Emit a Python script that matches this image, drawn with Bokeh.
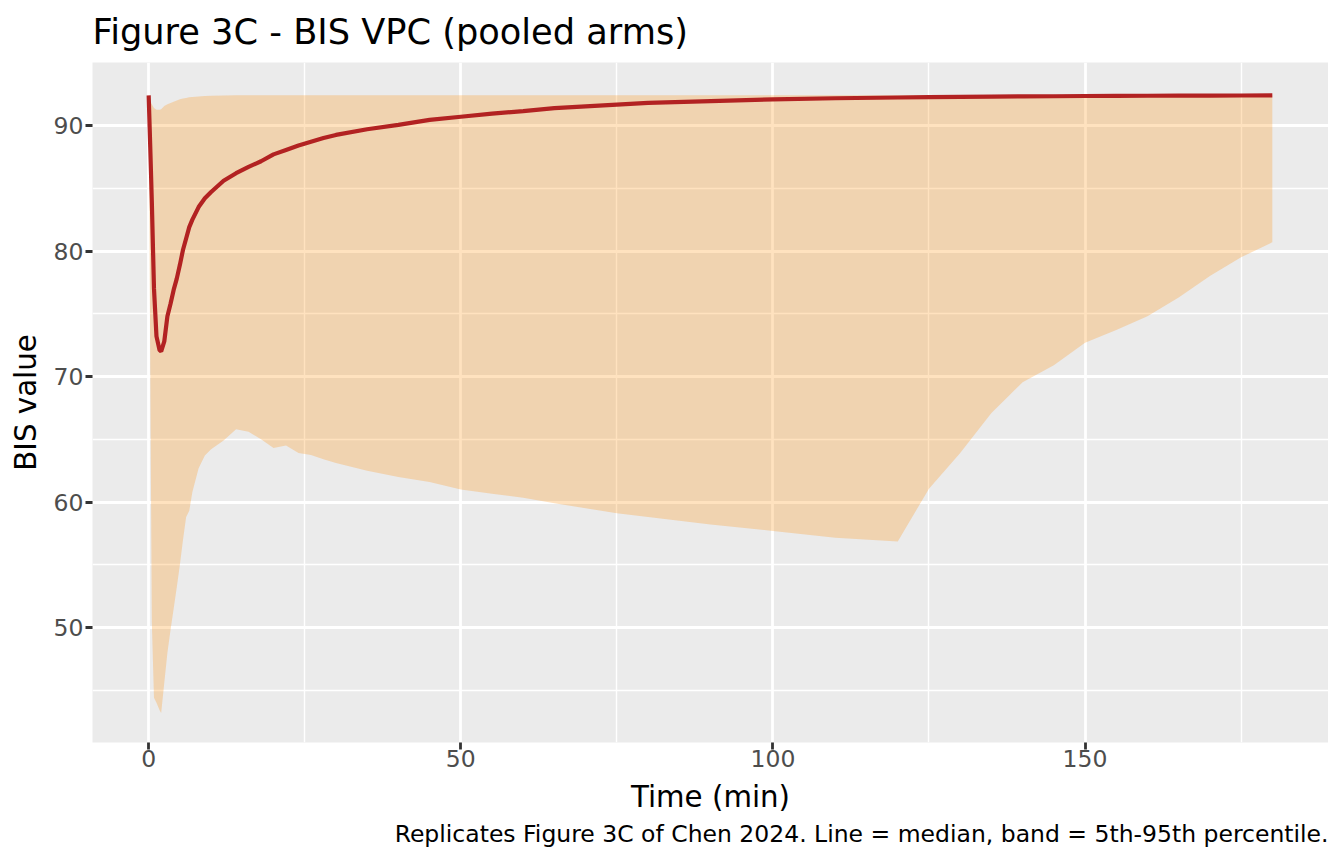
from bokeh.plotting import figure
from bokeh.models import Range1d, FixedTicker, Title
from bokeh.embed import file_html
from bokeh.resources import INLINE

time_min = [0, 0.25, 0.5, 0.85, 1.25, 1.75, 2.0, 2.5, 3.0, 3.5, 4.0, 4.5, 5.0, 5.5, 6.0, 6.5, 7.0,
            8.0, 9.0, 10, 12, 14, 16, 18, 20, 22, 24, 26, 28, 30, 35, 40, 45, 50, 55, 60, 65, 70,
            75, 80, 90, 100, 110, 120, 125, 130, 135, 140, 145, 150, 155, 160, 165, 170, 175, 180]

median_bis = [92.4, 88.3, 84.0, 77.0, 73.2, 72.1, 72.0, 72.8, 74.8, 75.8, 76.9, 77.8, 78.9, 80.1,
              81.0, 81.9, 82.5, 83.5, 84.2, 84.7, 85.6, 86.2, 86.7, 87.15, 87.7, 88.05, 88.4, 88.7,
              89.0, 89.25, 89.7, 90.05, 90.45, 90.7, 90.95, 91.15, 91.38, 91.53, 91.67, 91.8,
              91.95, 92.08, 92.17, 92.23, 92.26, 92.28, 92.3, 92.32, 92.33, 92.35, 92.36, 92.37,
              92.38, 92.38, 92.39, 92.4]

p95_bis = [92.4, 92.0, 91.7, 91.4, 91.25, 91.25, 91.3, 91.55, 91.7, 91.8, 91.9, 92.0, 92.1, 92.15,
           92.2, 92.25, 92.27, 92.32, 92.35, 92.37, 92.4, 92.42, 92.42, 92.42, 92.42, 92.42, 92.42,
           92.42, 92.42, 92.42, 92.42, 92.42, 92.42, 92.42, 92.42, 92.42, 92.42, 92.42, 92.42,
           92.42, 92.42, 92.42, 92.42, 92.42, 92.42, 92.42, 92.42, 92.42, 92.42, 92.42, 92.42,
           92.42, 92.42, 92.42, 92.42, 92.42]

p05_bis = [92.4, 71.0, 50.5, 44.4, 44.0, 43.4, 43.2, 45.6, 48.0, 49.8, 51.5, 53.2, 55.0, 57.0,
           58.8, 59.3, 60.8, 62.7, 63.7, 64.2, 64.9, 65.8, 65.6, 65.0, 64.3, 64.5, 63.9, 63.75,
           63.4, 63.1, 62.5, 62.0, 61.6, 61.0, 60.65, 60.35, 59.9, 59.5, 59.1, 58.8, 58.2, 57.7,
           57.15, 56.86, 61.06, 63.9, 67.1, 69.55, 70.9, 72.7, 73.7, 74.8, 76.3, 78.0, 79.5, 80.7]

x_ticks = [0, 50, 100, 150]
x_minor = [25, 75, 125, 175]
y_ticks = [50, 60, 70, 80, 90]
y_minor = [45, 55, 65, 75, 85]

title_text = "Figure 3C - BIS VPC (pooled arms)"
x_label = "Time (min)"
y_label = "BIS value"
caption_text = "Replicates Figure 3C of Chen 2024. Line = median, band = 5th-95th percentile."

FONT = "DejaVu Sans"

p = figure(width=1328, height=848, output_backend="svg", toolbar_location=None,
           x_range=Range1d(-9, 189), y_range=Range1d(40.84, 95.02),
           min_border_left=92, min_border_right=0, min_border_top=62, min_border_bottom=106)

p.background_fill_color = "#EBEBEB"
p.border_fill_color = "white"
p.outline_line_color = None

p.title.text = title_text
p.title.text_font = FONT
p.title.text_font_size = "35.2px"
p.title.text_font_style = "normal"
p.title.text_color = "black"
p.title.align = "left"
p.title.vertical_align = "top"
p.title.standoff = 17

p.varea(x=time_min, y1=p05_bis, y2=p95_bis, fill_color="darkorange", fill_alpha=0.25)
p.line(x=time_min, y=median_bis, line_color="firebrick", line_width=4.2)

p.xaxis.ticker = FixedTicker(ticks=x_ticks, minor_ticks=x_minor)
p.yaxis.ticker = FixedTicker(ticks=y_ticks, minor_ticks=y_minor)

for ax in (p.xaxis[0], p.yaxis[0]):
    ax.axis_line_color = None
    ax.major_tick_line_color = "#333333"
    ax.major_tick_line_width = 2.8
    ax.major_tick_out = 7
    ax.major_tick_in = 0
    ax.minor_tick_line_color = None
    ax.major_label_text_font = FONT
    ax.major_label_text_font_size = "23.5px"
    ax.major_label_text_color = "#4D4D4D"
    ax.axis_label_text_font = FONT
    ax.axis_label_text_font_size = "29.3px"
    ax.axis_label_text_font_style = "normal"
    ax.axis_label_text_color = "black"

p.xaxis.axis_label = x_label
p.yaxis.axis_label = y_label
p.xaxis[0].major_label_standoff = 0
p.yaxis[0].major_label_standoff = 2
p.xaxis[0].axis_label_standoff = 10
p.yaxis[0].axis_label_standoff = 8

for g in (p.xgrid[0], p.ygrid[0]):
    g.grid_line_color = "white"
    g.grid_line_width = 2.8
    g.minor_grid_line_color = "white"
    g.minor_grid_line_width = 1.4

cap = Title(text=caption_text, align="right", text_font=FONT, text_font_size="23.5px",
            text_font_style="normal", text_color="black", standoff=2)
p.add_layout(cap, "below")

open("out.html", "w").write(file_html(p, INLINE))
